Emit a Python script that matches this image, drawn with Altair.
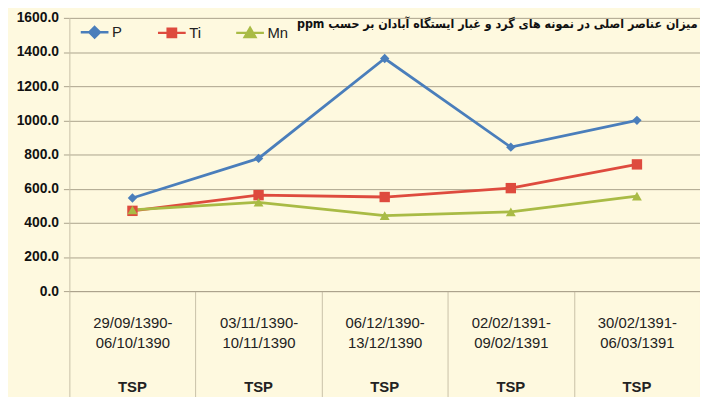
import altair as alt
import pandas as pd

start_dates = ["29/09/1390-", "03/11/1390-", "06/12/1390-", "02/02/1391-", "30/02/1391-"]
end_dates = ["06/10/1390", "10/11/1390", "13/12/1390", "09/02/1391", "06/03/1391"]
station = ["TSP", "TSP", "TSP", "TSP", "TSP"]
series_names = ["P", "Ti", "Mn"]
p_values = [545, 777, 1362, 843, 1000]
ti_values = [470, 562, 551, 603, 742]
mn_values = [475, 520, 442, 464, 556]
colors = ["#4A7EBB", "#DE4B3E", "#A9BB45"]
marker_shapes = ["diamond", "square", "triangle-up"]
y_ticks = [0, 200, 400, 600, 800, 1000, 1200, 1400, 1600]
# "ppm" first so that in a left-to-right line it sits at the left end, as in the reference
title_text = "ppm میزان عناصر اصلی در نمونه های گرد و غبار ایستگاه آبادان بر حسب"

cats = [s + " " + e for s, e in zip(start_dates, end_dates)]
rows = []
for name, vals in zip(series_names, [p_values, ti_values, mn_values]):
    for c, v, st in zip(cats, vals, station):
        rows.append({"cat": c, "series": name, "value": v, "station": st})
df = pd.DataFrame(rows)
df_lab = pd.DataFrame({"cat": cats, "station": station})

NUM_FONT = "Liberation Sans Narrow, Arial Narrow, Liberation Sans"
GRID = "#ABA38C"

x_enc = alt.X(
    "cat:N",
    sort=cats,
    title=None,
    scale=alt.Scale(paddingInner=0, paddingOuter=0),
    axis=alt.Axis(
        labelAngle=0,
        labelExpr="datum.value ? split(datum.value, ' ') : ''",
        labelFont=NUM_FONT,
        labelFontSize=15,
        labelLineHeight=20,
        labelColor="#222222",
        labelBaseline="top",
        labelPadding=-85,
        tickBand="extent",
        tickSize=110,
        tickColor="#C8C0A8",
        domainColor=GRID,
        labelLimit=200,
    ),
)

y_enc = alt.Y(
    "value:Q",
    title=None,
    scale=alt.Scale(domain=[0, 1600], nice=False),
    axis=alt.Axis(
        values=y_ticks,
        tickCount=20,
        format=".1f",
        labelFont=NUM_FONT,
        labelFontSize=14,
        labelFontWeight="bold",
        labelColor="#111111",
        labelPadding=5,
        labelOverlap=False,
        tickSize=6,
        tickColor=GRID,
        gridColor=GRID,
        gridWidth=1,
        domainColor="#C8C0A8",
    ),
)

color_scale = alt.Scale(domain=series_names, range=colors)

legend_paths = [
    "M-1,0L1,0M0,-0.38L0.38,0L0,0.38L-0.38,0Z",
    "M-1,0L1,0M-0.3,-0.3L0.3,-0.3L0.3,0.3L-0.3,0.3Z",
    "M-1,0L1,0M0,-0.36L0.38,0.3L-0.38,0.3Z",
]

legend_cfg = dict(
    orient="none",
    legendX=10,
    legendY=-1,
    direction="horizontal",
    title=None,
    labelFont=NUM_FONT,
    labelFontSize=15,
    labelColor="#222222",
    symbolSize=784,
    symbolStrokeWidth=2.5,
    columnPadding=30,
    labelOffset=2,
)

base = alt.Chart(df)

# layer that carries the legend; its own marks are tiny and hidden under the markers
legend_layer = base.mark_point(filled=True, size=1, opacity=1, strokeWidth=1).encode(
    x=x_enc,
    y=y_enc,
    fill=alt.Fill(
        "series:N",
        scale=alt.Scale(domain=series_names, range=colors),
        sort=series_names,
        legend=alt.Legend(**legend_cfg),
    ),
    stroke=alt.Stroke(
        "series:N",
        scale=alt.Scale(domain=series_names, range=colors),
        sort=series_names,
        legend=alt.Legend(**legend_cfg),
    ),
    shape=alt.Shape(
        "series:N",
        sort=series_names,
        scale=alt.Scale(domain=series_names, range=legend_paths),
        legend=alt.Legend(**legend_cfg),
    ),
)

lines = base.mark_line(strokeWidth=2.8).encode(
    x=x_enc,
    y=y_enc,
    color=alt.Color("series:N", scale=color_scale, legend=None, sort=series_names),
)

point_layers = []
for name, shp, sz in zip(series_names, marker_shapes, [90, 110, 100]):
    point_layers.append(
        base.transform_filter(alt.datum.series == name)
        .mark_point(filled=True, size=sz, opacity=1, shape=shp)
        .encode(
            x=x_enc,
            y=y_enc,
            color=alt.Color("series:N", scale=color_scale, legend=None, sort=series_names),
        )
    )

tsp = alt.Chart(df_lab).mark_text(
    font=NUM_FONT, fontSize=15, fontWeight="bold", color="#222222", baseline="middle"
).encode(
    x=x_enc,
    y=alt.value(373),
    text="station:N",
)

chart = (
    alt.layer(legend_layer, lines, *point_layers, tsp)
    .properties(
        width=637,
        height=276,
        padding={"left": 62, "top": 8, "right": 0, "bottom": 105},
        autosize=alt.AutoSizeParams(type="none"),
        background="#FEF9DF",
        title=alt.Title(
            title_text,
            anchor="end",
            font="DejaVu Sans Condensed, DejaVu Sans",
            fontSize=12.5,
            fontWeight="bold",
            color="#111111",
            offset=0,
            dy=20,
            dx=-3,
        ),
    )
    .configure_view(stroke=None)
)

chart.save("out.html", embed_options={"renderer": "svg", "actions": False})
